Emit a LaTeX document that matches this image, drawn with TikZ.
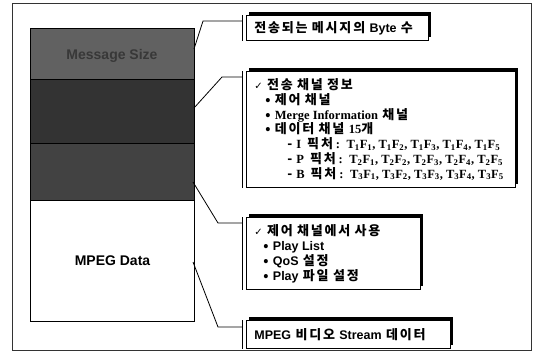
\documentclass[tikz,border=0pt]{standalone}
\usepackage{fontspec}
\setmainfont{Liberation Serif}
\newfontfamily\kr{Noto Sans CJK KR}
\newfontfamily\ls{Liberation Sans}
\newfontfamily\djv{DejaVu Sans}
\usetikzlibrary{shadows}
\newXeTeXintercharclass\hgc
\count255="AC00
\loop\XeTeXcharclass\count255=\hgc\ifnum\count255<"D7A3 \advance\count255 1 \repeat
\XeTeXinterchartoks\hgc\hgc={\kern1.8pt}
\XeTeXinterchartokenstate=1
\newcommand{\krsp}{\spaceskip=8pt plus 1pt\relax}
\newcommand{\ser}[1]{{\spaceskip=0pt\rmfamily\bfseries\fontsize{12.5}{14.7}\selectfont #1}}
\newcommand{\lat}[1]{{\spaceskip=0pt\ls\bfseries\fontsize{12.5}{14.7}\selectfont #1}}
\newcommand{\chk}{{\djv\fontsize{10}{12}\selectfont ✓}}
\newcommand{\TF}[2]{T\textsubscript{#1}F\textsubscript{#2}}
\newcommand{\pic}[2]{-\hspace{4pt}\ser{#1}\hspace{6pt}픽처\hspace{3pt}\ser{#2}}
\begin{document}
\begin{tikzpicture}[x=1pt,y=-1pt,
  frame/.style={draw=black!80, line width=0.6pt},
  sec/.style={draw=black, line width=1pt, anchor=north west, minimum width=164pt, inner sep=0pt},
  rbox/.style={draw=black, line width=0.8pt, fill=white, anchor=north west, align=left,
     inner xsep=8pt, inner ysep=0pt, font=\kr\bfseries\fontsize{13}{14.7}\selectfont\krsp,
     general shadow={fill=black, shadow xshift=3pt, shadow yshift=3pt}},
  conn/.style={draw=black, line width=0.8pt},
  brk/.style={draw=black, line width=0.8pt}]
\useasboundingbox (0,0) rectangle (533,360);
\draw[frame] (12,3) rectangle (531,350);

% left column
\node[sec, fill=black!62, minimum height=51pt] (s1) at (30,28) {};
\node[sec, fill=black!80, minimum height=64pt] (s2) at (30,79) {};
\node[sec, fill=black!74, minimum height=57pt] (s3) at (30,143) {};
\node[sec, fill=white, minimum height=121pt, font=\ls\bfseries\fontsize{14}{16}\selectfont] (s4) at (30,200) {MPEG Data};
\node[text=black!78, font=\ls\bfseries\fontsize{14}{16}\selectfont] (t1) at (112,56) {Message Size};

% right boxes
\node[rbox, text width=166pt, minimum height=25pt] (b1) at (246,15)
  {전송되는 메시지의 \lat{Byte} 수};
\node[rbox, text width=253pt, minimum height=116pt] (b2) at (246,71)
  {\chk\ 전송 채널 정보\\
   \hspace*{11pt}• 제어 채널\\
   \hspace*{11pt}• \ser{Merge Information} 채널\\
   \hspace*{11pt}• 데이터 채널 \ser{15}개\\
   \hspace*{33pt}\pic{I}{: \TF11, \TF12, \TF13, \TF14, \TF15}\\
   \hspace*{33pt}\pic{P}{: \TF21, \TF22, \TF23, \TF24, \TF25}\\
   \hspace*{33pt}\pic{B}{: \TF31, \TF32, \TF33, \TF34, \TF35}};
\node[rbox, text width=158pt, minimum height=72pt, font=\kr\bfseries\fontsize{13}{15}\selectfont\krsp] (b3) at (246,217)
  {\chk\ 제어 채널에서 사용\\
   \hspace*{9pt}• \lat{Play List}\\
   \hspace*{9pt}• \lat{QoS} 설정\\
   \hspace*{9pt}• \lat{Play} 파일 설정};
\node[rbox, text width=188pt, minimum height=28pt] (b4) at (246,320)
  {\lat{MPEG} 비디오 \lat{Stream} 데이터};

% brackets
\foreach \b in {b1,b2,b3,b4}{
  \coordinate (\b k) at ([xshift=-4pt]\b.north west);
  \draw[brk] (\b k) -- ([xshift=-4pt]\b.south west);
}

% connector starts and elbows
\coordinate (c1) at (194,49);
\coordinate (e1) at (203,21);
\coordinate (c2) at (194,108);
\coordinate (e2) at (222,77);
\coordinate (c3) at (193,182);
\coordinate (e3) at (218,223);
\coordinate (c4) at (193,262);
\coordinate (e4) at (218,327);
\draw[conn] (c1) -- (e1) -- (e1 -| b1k);
\draw[conn] (c2) -- (e2) -- (e2 -| b2k);
\draw[conn] (c3) -- (e3) -- (e3 -| b3k);
\draw[conn] (c4) -- (e4) -- (e4 -| b4k);
\end{tikzpicture}
\end{document}
